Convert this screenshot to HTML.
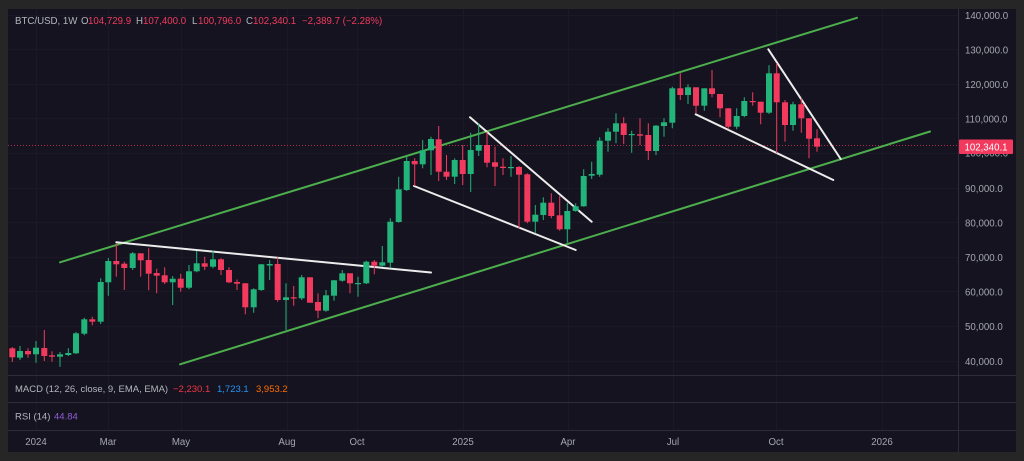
<!DOCTYPE html>
<html><head><meta charset="utf-8"><style>
html,body{margin:0;padding:0;background:#262626;width:1024px;height:461px;overflow:hidden}
svg{display:block}
text{font-family:"Liberation Sans",sans-serif;}
</style></head><body>
<svg width="1024" height="461" viewBox="0 0 1024 461" xmlns="http://www.w3.org/2000/svg">
<rect x="0" y="0" width="1024" height="461" fill="#262626"/>
<rect x="8" y="9" width="1008" height="443" fill="#15131f"/>
<!-- grid -->
<g stroke="#1b1926" stroke-width="1">
<path d="M8 15.5H958M8 49.5H958M8 84.5H958M8 118.5H958M8 153.5H958M8 188.5H958M8 222.5H958M8 257.5H958M8 291.5H958M8 326.5H958M8 361.5H958"/>
<path d="M36.5 9V430M108.5 9V430M181.5 9V430M287.5 9V430M357.5 9V430M463.5 9V430M568.5 9V430M673.5 9V430M776.5 9V430M882.5 9V430"/>
</g>
<!-- pane separators -->
<g stroke="#2d2c38" stroke-width="1">
<path d="M8 375.5H1016M8 402.5H1016M8 430.5H1016M958.5 9V452"/>
</g>
<!-- current price dotted line -->
<path d="M8 145.5H958" stroke="#f23a5e" stroke-width="1" stroke-dasharray="1 2" opacity="0.7"/>
<!-- channel lines -->
<g stroke="#4cae4c" stroke-width="2" stroke-linecap="round">
<path d="M60 262.3L857 17.8"/>
<path d="M180 364.3L930 131.5"/>
</g>
<!-- white trend lines -->
<g stroke="#ececec" stroke-width="2" stroke-linecap="round">
<path d="M116.3 242.3L431 272.5"/>
<path d="M414 186L575.7 250"/>
<path d="M470 117.3L591.7 221.7"/>
<path d="M695.7 114.3L833.3 180"/>
<path d="M768.3 49.3L840.7 159"/>
</g>
<!-- green candles -->
<g fill="#22b47a" stroke="#22b47a">
<path fill="none" stroke-width="1" d="M20 346V360M36 341V362.7M60 352V366.7M68.3 348.3V356M76 332V354M84.3 317.7V335.3M100.7 278.3V324M108.3 258V295.7M132.7 252V270M172.7 276V305M189 265V289.3M196.7 251V272.3M213 250.7V268.3M253.7 288.3V312.7M261.3 264V290.7M269.7 260V280M286 283.3V330M301.7 275V300M326 290V311.7M334 280V300.7M342.3 270V281.7M358 276.7V296.7M366.3 260.7V284M382.3 246V266.7M390.3 218.3V268.3M398.7 176.7V222.7M406.7 156.7V191M422.7 140V168.3M431 136.7V175M454.7 158.3V184M470.7 132.7V192M478.7 123.3V156M511 156V176.7M535.3 205V233.3M543.3 197.3V220M567.3 202.7V242.7M575.7 203.3V211.7M583.7 169.3V206.7M591.7 161.7V179M599.7 137.3V176.7M608 128.3V151.7M616 113.3V143.3M631.7 130.7V152.7M656 125V155M664 118.3V136.7M672.3 86.7V128.3M688 84.3V104M704.3 88.3V110.7M736.7 108.3V129.3M744.3 97.3V117.3M769 65.3V114M793 101.7V130.7"/>
<g stroke="none">
<rect x="17" y="351" width="6" height="6.7"/>
<rect x="33" y="347.7" width="6" height="6.6"/>
<rect x="57" y="354.3" width="6" height="2.4"/>
<rect x="65.3" y="353" width="6" height="2"/>
<rect x="73" y="333.3" width="6" height="20"/>
<rect x="81.3" y="319.3" width="6" height="14.4"/>
<rect x="97.7" y="282" width="6" height="39.7"/>
<rect x="105.3" y="261" width="6" height="21.3"/>
<rect x="129.7" y="253.3" width="6" height="14.7"/>
<rect x="169.7" y="278.7" width="6" height="3.6"/>
<rect x="186" y="271.3" width="6" height="16.4"/>
<rect x="193.7" y="263.3" width="6" height="8"/>
<rect x="210" y="259.3" width="6" height="7.4"/>
<rect x="250.7" y="289.3" width="6" height="18"/>
<rect x="258.3" y="264.3" width="6" height="25.7"/>
<rect x="266.7" y="264" width="6" height="1.5"/>
<rect x="283" y="297.3" width="6" height="2.7"/>
<rect x="298.7" y="277.3" width="6" height="21"/>
<rect x="323" y="295.3" width="6" height="15.4"/>
<rect x="331" y="280.3" width="6" height="15.4"/>
<rect x="339.3" y="273.3" width="6" height="7.4"/>
<rect x="355" y="283" width="6" height="1.2"/>
<rect x="363.3" y="261.7" width="6" height="21.6"/>
<rect x="379.3" y="262.3" width="6" height="3.4"/>
<rect x="387.3" y="221.7" width="6" height="41"/>
<rect x="395.7" y="189.3" width="6" height="32.7"/>
<rect x="403.7" y="161" width="6" height="29"/>
<rect x="419.7" y="150.3" width="6" height="14"/>
<rect x="428" y="139" width="6" height="11.3"/>
<rect x="451.7" y="160" width="6" height="16.7"/>
<rect x="467.7" y="150" width="6" height="24"/>
<rect x="475.7" y="145" width="6" height="5.7"/>
<rect x="508" y="167" width="6" height="1.2"/>
<rect x="532.3" y="214.7" width="6" height="7"/>
<rect x="540.3" y="202.7" width="6" height="12.3"/>
<rect x="564.3" y="211" width="6" height="18.3"/>
<rect x="572.7" y="206.3" width="6" height="4.7"/>
<rect x="580.7" y="176" width="6" height="30.3"/>
<rect x="588.7" y="174" width="6" height="1.7"/>
<rect x="596.7" y="140.7" width="6" height="34"/>
<rect x="605" y="131.7" width="6" height="9"/>
<rect x="613" y="123.3" width="6" height="8.4"/>
<rect x="628.7" y="134" width="6" height="1.2"/>
<rect x="653" y="125.7" width="6" height="25.3"/>
<rect x="661" y="122.3" width="6" height="3.7"/>
<rect x="669.3" y="88.3" width="6" height="34.4"/>
<rect x="685" y="87.3" width="6" height="7.7"/>
<rect x="701.3" y="88.3" width="6" height="17.4"/>
<rect x="733.7" y="116" width="6" height="10.7"/>
<rect x="741.3" y="101" width="6" height="15"/>
<rect x="766" y="73.3" width="6" height="39.4"/>
<rect x="790" y="104.3" width="6" height="20.7"/>
</g>
</g>
<!-- red candles -->
<g fill="#f23a5e" stroke="#f23a5e">
<path fill="none" stroke-width="1" d="M12.3 347V362M28 348.3V357.7M44.3 330V361M52 351.3V361.7M92.3 316.7V325.3M116.3 243.3V276.7M124.3 261.7V290M140.7 253.3V276.7M148.7 248.3V290.3M156.7 268.7V293.3M164.7 267.3V284M180.7 273.7V291.7M204.7 256.7V270M221 258.3V275M229 267.3V283.3M237 279.5V290M245.3 283V314.3M277.7 257.3V301.7M293.7 286V305.7M310 277.3V302.7M318 293.3V318.3M350 273.3V293.3M374.3 260V274.3M414.7 158.3V186M438.7 126V181M446.5 155V180M462.7 145V185M487 131.7V167.3M495 146.7V186M503 158.3V175M519 166V228.3M527.3 173.3V223.3M551.3 193.3V218.3M559.7 196V230.7M623.7 117.3V144M640 118.3V145M648.3 123.3V160M680.3 73.3V100M696 87.3V113.3M712 70V97.3M720 94V117.3M728.3 108.3V129.3M752.7 92.3V105.7M760.7 101.7V124.3M776.7 63.3V153.3M785 100V141.7M801.3 98.3V132.7M809 118.3V158.3M817 129.3V151.7"/>
<g stroke="none">
<rect x="9.3" y="348.3" width="6" height="9"/>
<rect x="25" y="351" width="6" height="3.3"/>
<rect x="41.3" y="348" width="6" height="8"/>
<rect x="49" y="355.3" width="6" height="1.4"/>
<rect x="89.3" y="319.3" width="6" height="2.4"/>
<rect x="113.3" y="261" width="6" height="3.3"/>
<rect x="121.3" y="263.7" width="6" height="4.3"/>
<rect x="137.7" y="253.3" width="6" height="7"/>
<rect x="145.7" y="260" width="6" height="13.7"/>
<rect x="153.7" y="273" width="6" height="2.7"/>
<rect x="161.7" y="275.3" width="6" height="7"/>
<rect x="177.7" y="278.7" width="6" height="9"/>
<rect x="201.7" y="263.3" width="6" height="3.4"/>
<rect x="218" y="259.3" width="6" height="10.7"/>
<rect x="226" y="270" width="6" height="12.3"/>
<rect x="234" y="282" width="6" height="1.7"/>
<rect x="242.3" y="283.3" width="6" height="24"/>
<rect x="274.7" y="264" width="6" height="36"/>
<rect x="290.7" y="297.3" width="6" height="1.2"/>
<rect x="307" y="277.3" width="6" height="25.4"/>
<rect x="315" y="302" width="6" height="8.7"/>
<rect x="347" y="273.3" width="6" height="10"/>
<rect x="371.3" y="261.7" width="6" height="4"/>
<rect x="411.7" y="161" width="6" height="3.3"/>
<rect x="435.7" y="139.3" width="6" height="32.4"/>
<rect x="443.5" y="171.7" width="6" height="5"/>
<rect x="459.7" y="160" width="6" height="14"/>
<rect x="484" y="145" width="6" height="17.7"/>
<rect x="492" y="162.3" width="6" height="4.4"/>
<rect x="500" y="166.7" width="6" height="1.3"/>
<rect x="516" y="167" width="6" height="7.7"/>
<rect x="524.3" y="174.3" width="6" height="47.4"/>
<rect x="548.3" y="202.7" width="6" height="13.3"/>
<rect x="556.7" y="215.3" width="6" height="14"/>
<rect x="620.7" y="123.3" width="6" height="11.7"/>
<rect x="637" y="134.3" width="6" height="1.4"/>
<rect x="645.3" y="135" width="6" height="16"/>
<rect x="677.3" y="88.3" width="6" height="6.7"/>
<rect x="693" y="87.3" width="6" height="18.4"/>
<rect x="709" y="88.3" width="6" height="5.7"/>
<rect x="717" y="94" width="6" height="14.3"/>
<rect x="725.3" y="108.3" width="6" height="18.4"/>
<rect x="749.7" y="101" width="6" height="1.2"/>
<rect x="757.7" y="101.7" width="6" height="11"/>
<rect x="773.7" y="73.3" width="6" height="29"/>
<rect x="782" y="102.3" width="6" height="22.7"/>
<rect x="798.3" y="104.3" width="6" height="14"/>
<rect x="806" y="118.3" width="6" height="20.4"/>
<rect x="814" y="138.3" width="6" height="8.4"/>
</g>
</g>
<!-- header -->
<g font-size="9.7">
<text x="15" y="24" fill="#b2b5be">BTC/USD, 1W</text>
<text x="81" y="24" fill="#b2b5be">O</text><text x="88" y="24" fill="#f23a5e">104,729.9</text>
<text x="136" y="24" fill="#b2b5be">H</text><text x="143" y="24" fill="#f23a5e">107,400.0</text>
<text x="192" y="24" fill="#b2b5be">L</text><text x="198" y="24" fill="#f23a5e">100,796.0</text>
<text x="246" y="24" fill="#b2b5be">C</text><text x="253" y="24" fill="#f23a5e">102,340.1</text>
<text x="302" y="24" fill="#f23a5e">−2,389.7 (−2.28%)</text>
</g>
<!-- price axis -->
<g font-size="9.7" fill="#a3a6af">
<text x="965" y="19">140,000.0</text>
<text x="965" y="53.5">130,000.0</text>
<text x="965" y="88">120,000.0</text>
<text x="965" y="122.5">110,000.0</text>
<text x="965" y="156.5">100,000.0</text>
<text x="965" y="192">90,000.0</text>
<text x="965" y="226.5">80,000.0</text>
<text x="965" y="261">70,000.0</text>
<text x="965" y="295.5">60,000.0</text>
<text x="965" y="330">50,000.0</text>
<text x="965" y="365">40,000.0</text>
</g>
<rect x="959" y="139.5" width="54" height="14.5" rx="1" fill="#f23a5e"/>
<text x="986" y="150.3" font-size="9.7" fill="#ffffff" text-anchor="middle">102,340.1</text>
<!-- indicator labels -->
<g font-size="9.5">
<text x="15" y="392" fill="#b2b5be">MACD (12, 26, close, 9, EMA, EMA)</text>
<text x="173" y="392" fill="#f23645">−2,230.1</text>
<text x="217" y="392" fill="#2196f3">1,723.1</text>
<text x="256" y="392" fill="#ff6d00">3,953.2</text>
<text x="15" y="419.5" fill="#b2b5be">RSI (14)</text>
<text x="54" y="419.5" fill="#8e5ed6">44.84</text>
</g>
<!-- date axis -->
<g font-size="9.7" fill="#a3a6af" text-anchor="middle">
<text x="36" y="445">2024</text>
<text x="108" y="445">Mar</text>
<text x="181" y="445">May</text>
<text x="287" y="445">Aug</text>
<text x="357" y="445">Oct</text>
<text x="463" y="445">2025</text>
<text x="568" y="445">Apr</text>
<text x="673" y="445">Jul</text>
<text x="776" y="445">Oct</text>
<text x="882" y="445">2026</text>
</g>
</svg>
</body></html>
